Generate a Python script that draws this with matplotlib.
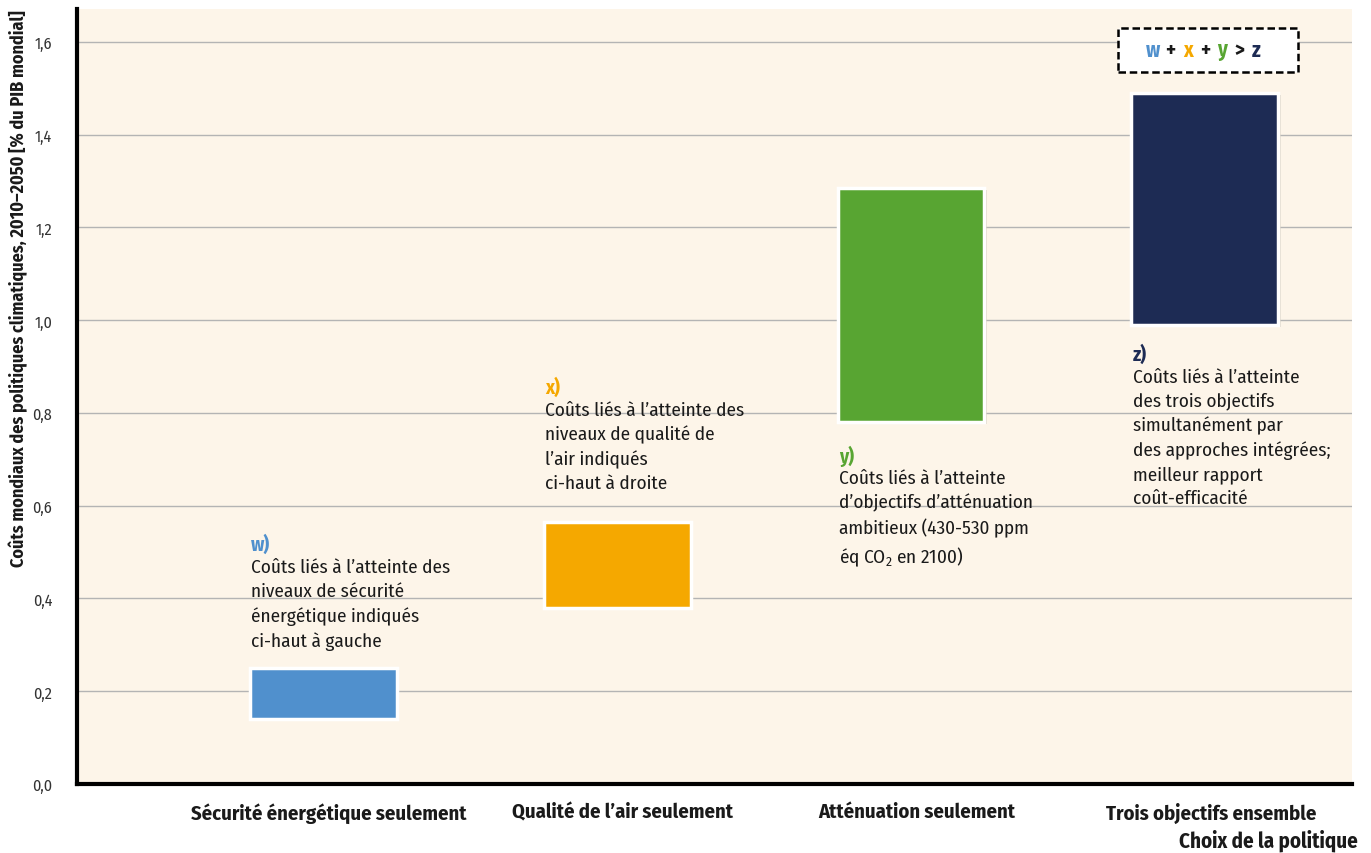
import matplotlib
matplotlib.use("Agg")
import matplotlib.pyplot as plt
import matplotlib.patheffects as pe
from matplotlib.patches import Rectangle

# data
categories = ["Sécurité énergétique seulement", "Qualité de l’air seulement",
              "Atténuation seulement", "Trois objectifs ensemble"]
bar_low = [0.14, 0.38, 0.78, 0.99]
bar_high = [0.25, 0.565, 1.285, 1.49]
bar_colors = ["#5090cd", "#f5a800", "#58a532", "#1d2b54"]
labels = ["w)", "x)", "y)", "z)"]
notes = [
    "Coûts liés à l’atteinte des\nniveaux de sécurité\nénergétique indiqués\nci-haut à gauche",
    "Coûts liés à l’atteinte des\nniveaux de qualité de\nl’air indiqués\nci-haut à droite",
    "Coûts liés à l’atteinte\nd’objectifs d’atténuation\nambitieux (430-530 ppm\néq CO$_2$ en 2100)",
    "Coûts liés à l’atteinte\ndes trois objectifs\nsimultanément par\ndes approches intégrées;\nmeilleur rapport\ncoût-efficacité",
]
label_y = [0.517, 0.856, 0.709, 0.927]
yticks = [0.0, 0.2, 0.4, 0.6, 0.8, 1.0, 1.2, 1.4, 1.6]

plt.rcParams["font.family"] = ["Fira Sans Condensed", "Roboto Condensed", "Liberation Sans", "DejaVu Sans"]
plt.rcParams["mathtext.default"] = "regular"

bg = "#fdf5e9"
ink = "#1a1a1a"
fig = plt.figure(figsize=(13.71, 8.54), dpi=100)
ax = fig.add_axes([0.0562, 0.0808, 0.9299, 0.9075])
ax.set_facecolor(bg)

x = list(range(len(categories)))
heights = [h - l for h, l in zip(bar_high, bar_low)]
bars = ax.bar(x, heights, bottom=bar_low, width=0.5, color=bar_colors,
              edgecolor="white", linewidth=2.5, zorder=3)
for b in bars:
    b.set_path_effects([pe.SimplePatchShadow(offset=(1.5, -1.5), shadow_rgbFace="#c8c0b0", alpha=0.5),
                        pe.Normal()])

for i in x:
    ax.text(i - 0.245, label_y[i], labels[i], color=bar_colors[i], fontsize=14,
            fontweight="bold", ha="left", va="center", zorder=4)
    ax.text(i - 0.245, label_y[i] - 0.03, notes[i], color=ink, fontsize=13.8,
            ha="left", va="top", linespacing=1.42, zorder=4)

# w + x + y > z box
ax.add_patch(Rectangle((2.704, 1.535), 0.612, 0.095, facecolor="white",
                       edgecolor="black", linestyle=(0, (3, 1.5)), linewidth=1.8, zorder=4))
tokens = ["w", "+", "x", "+", "y", ">", "z"]
token_colors = [bar_colors[0], ink, bar_colors[1], ink, bar_colors[2], ink, bar_colors[3]]
for k, (t, c) in enumerate(zip(tokens, token_colors)):
    ax.text(3.0 + (k - 3) * 0.0585, 1.583, t, color=c, fontsize=15, fontweight="bold",
            ha="center", va="center", zorder=5)

ax.set_xlim(-0.837, 3.5)
ax.set_ylim(0, 1.671)
ax.set_yticks(yticks)
ax.set_yticklabels([f"{v:.1f}".replace(".", ",") for v in yticks], fontsize=11.5, color="#333333")
ax.set_xticks([i + 0.02 for i in x])
ax.set_xticklabels(categories, fontsize=14.8, fontweight="bold", color=ink)
ax.tick_params(axis="both", length=0)
ax.tick_params(axis="y", pad=18)
ax.tick_params(axis="x", pad=13)
ax.grid(axis="y", color="#b4b4b4", linewidth=1, zorder=0)
ax.set_axisbelow(True)
for s in ["top", "right"]:
    ax.spines[s].set_visible(False)
ax.spines["left"].set_linewidth(3)
ax.spines["bottom"].set_linewidth(3)

fig.text(0.0131, 0.6616, "Coûts mondiaux des politiques climatiques, 2010–2050 [% du PIB mondial]",
         rotation=90, ha="center", va="center", fontsize=13, fontweight="bold", color=ink)
fig.text(0.990, 0.007, "Choix de la politique", ha="right", va="baseline",
         fontsize=15, fontweight="bold", color=ink)

fig.savefig("out.png", dpi=100)
